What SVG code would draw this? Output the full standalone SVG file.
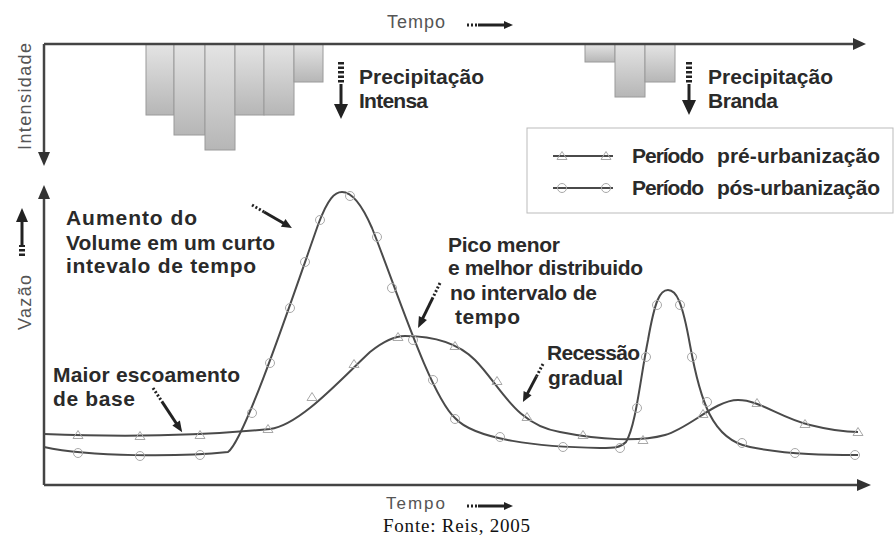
<svg xmlns="http://www.w3.org/2000/svg" xmlns:xlink="http://www.w3.org/1999/xlink" width="894" height="538" viewBox="0 0 894 538">
<style>
.axis{stroke:#444;stroke-width:2.5;fill:none}
.axhead{fill:#333}
.bar{fill:url(#barg);stroke:#9a9a9a;stroke-width:1}
.lbl{font-family:"Liberation Sans",Arial,sans-serif;font-weight:bold;font-size:21px;fill:#2a2a2a}
.ax{font-family:"Liberation Sans",Arial,sans-serif;font-size:18px;fill:#555}
.src{font-family:"Liberation Serif","Times New Roman",serif;font-size:19px;fill:#111}
.curve{fill:none;stroke:#4a4a4a;stroke-width:2}
.mk{fill:none;stroke:#a8a8a8;stroke-width:1}
.dots{stroke:#222;stroke-width:3;stroke-dasharray:2 2;fill:none}
.shaft{stroke:#222;stroke-width:3;fill:none}
.head{fill:#222}
.stripes{stroke:#222;stroke-width:6;stroke-dasharray:2.5 2;fill:none}
.legbox{fill:#fff;stroke:#bbb;stroke-width:1}
</style>
<defs>
<linearGradient id="barg" x1="0" y1="0" x2="0" y2="1">
<stop offset="0" stop-color="#e4e4e4"/>
<stop offset="1" stop-color="#b6b6b6"/>
</linearGradient>
<path id="tri" d="M0,-4.5 L5,3.5 L-5,3.5 Z"/>
<circle id="cir" cx="0" cy="0" r="4.5"/>
</defs>
<rect width="894" height="538" fill="#fff"/>

<!-- Rain bars -->
<g id="bars-intensa">
<rect class="bar" x="146" y="44" width="28" height="71"/>
<rect class="bar" x="174" y="44" width="31" height="91"/>
<rect class="bar" x="205" y="44" width="30" height="106"/>
<rect class="bar" x="235" y="44" width="29" height="71"/>
<rect class="bar" x="264" y="44" width="30" height="71"/>
<rect class="bar" x="294" y="44" width="29" height="38"/>
</g>
<g id="bars-branda">
<rect class="bar" x="585" y="44" width="30" height="18"/>
<rect class="bar" x="615" y="44" width="30" height="53"/>
<rect class="bar" x="645" y="44" width="30" height="38"/>
</g>

<!-- Axes -->
<g id="axes">
<path class="axis" d="M44,44 H856"/>
<path class="axhead" d="M853,38 L866,44 L853,50 Z"/>
<path class="axis" d="M44,44 V155"/>
<path class="axhead" d="M38,152 L44,166 L50,152 Z"/>
<path class="axis" d="M44,485 V196"/>
<path class="axhead" d="M38,199 L44,185 L50,199 Z"/>
<path class="axis" d="M44,485 H860"/>
<path class="axhead" d="M857,479 L871,485 L857,491 Z"/>
</g>

<!-- Axis labels -->
<g id="axis-labels">
<text class="ax" x="387" y="28" textLength="58">Tempo</text>
<g transform="translate(467,25)">
<path class="dots" d="M0,0 H11" stroke-width="2.5"/>
<path class="shaft" d="M11,0 H38" stroke-width="3"/>
<path class="head" d="M37,-4 L46,0 L37,4 Z"/>
</g>
<text class="ax" transform="translate(31,150) rotate(-90)" textLength="107">Intensidade</text>
<text class="ax" transform="translate(31,330) rotate(-90)" textLength="55">Vazão</text>
<g transform="translate(22,256) rotate(-90)">
<path class="stripes" d="M0,0 H11" stroke-width="5"/>
<path class="shaft" d="M11,0 H36" stroke-width="4"/>
<path class="head" d="M34,-6 L48,0 L34,6 Z"/>
</g>
<text class="ax" x="386" y="509" textLength="59" style="font-size:17px">Tempo</text>
<g transform="translate(467,506)">
<path class="dots" d="M0,0 H11" stroke-width="2.5"/>
<path class="shaft" d="M11,0 H38" stroke-width="3"/>
<path class="head" d="M37,-4 L46,0 L37,4 Z"/>
</g>
</g>

<!-- Precipitation labels -->
<g id="label-intensa">
<g transform="translate(341,62) rotate(90)">
<path class="stripes" d="M0,0 H22"/>
<path class="shaft" d="M22,0 H44" stroke-width="4.5"/>
<path class="head" d="M42,-7 L57,0 L42,7 Z"/>
</g>
<text class="lbl" x="359" y="84" textLength="125">Precipitação</text>
<text class="lbl" x="359" y="108" textLength="69">Intensa</text>
</g>
<g id="label-branda">
<g transform="translate(689,62) rotate(90)">
<path class="stripes" d="M0,0 H22"/>
<path class="shaft" d="M22,0 H40" stroke-width="4.5"/>
<path class="head" d="M38,-7 L53,0 L38,7 Z"/>
</g>
<text class="lbl" x="708" y="84" textLength="125">Precipitação</text>
<text class="lbl" x="708" y="108" textLength="70">Branda</text>
</g>

<!-- Legend -->
<g id="legend">
<rect class="legbox" x="527" y="128" width="366" height="85"/>
<path class="curve" d="M553,156 H613" stroke="#777" stroke-width="1.5"/>
<use href="#tri" xlink:href="#tri" class="mk" x="562" y="156"/>
<use href="#tri" xlink:href="#tri" class="mk" x="606" y="156"/>
<text class="lbl" x="632" y="163" textLength="72">Período</text>
<text class="lbl" x="717" y="163" textLength="163">pré-urbanização</text>
<path class="curve" d="M553,188 H613" stroke="#777" stroke-width="1.5"/>
<use href="#cir" xlink:href="#cir" class="mk" x="562" y="188"/>
<use href="#cir" xlink:href="#cir" class="mk" x="606" y="188"/>
<text class="lbl" x="632" y="195" textLength="72">Período</text>
<text class="lbl" x="717" y="195" textLength="163">pós-urbanização</text>
</g>

<!-- Hydrograph curves -->
<g id="connectors">
<path id="curve-pre" class="curve" d="M44,434 C120,437 200,436 270,429 C300,425 340,380 370,352 C385,340 395,336 405,336 C425,336 455,340 475,360 C500,385 515,425 560,432 C600,440 640,442 665,435 C690,428 715,400 738,400 C760,400 780,418 810,425 C830,430 845,432 858,432"/>
<path id="curve-pos" class="curve" d="M44,447 C90,457 180,457 228,452 C245,440 295,290 318,225 C328,198 335,192 342,192 C352,192 362,205 372,228 C395,285 430,395 455,418 C475,440 540,447 600,448 C615,448 620,448 626,442 C636,425 640,380 648,340 C655,300 660,290 668,290 C676,290 682,300 690,345 C700,400 712,440 750,447 C790,455 830,455 858,455"/>
</g>

<g id="markers-pre" class="mk">
<use href="#tri" xlink:href="#tri" x="78" y="435"/>
<use href="#tri" xlink:href="#tri" x="140" y="436"/>
<use href="#tri" xlink:href="#tri" x="200" y="435"/>
<use href="#tri" xlink:href="#tri" x="268" y="429"/>
<use href="#tri" xlink:href="#tri" x="312" y="397"/>
<use href="#tri" xlink:href="#tri" x="354" y="364"/>
<use href="#tri" xlink:href="#tri" x="398" y="337"/>
<use href="#tri" xlink:href="#tri" x="455" y="346"/>
<use href="#tri" xlink:href="#tri" x="497" y="381"/>
<use href="#tri" xlink:href="#tri" x="527" y="417"/>
<use href="#tri" xlink:href="#tri" x="583" y="435"/>
<use href="#tri" xlink:href="#tri" x="643" y="440"/>
<use href="#tri" xlink:href="#tri" x="703" y="414"/>
<use href="#tri" xlink:href="#tri" x="757" y="403"/>
<use href="#tri" xlink:href="#tri" x="805" y="424"/>
<use href="#tri" xlink:href="#tri" x="858" y="432"/>
</g>
<g id="markers-pos" class="mk">
<use href="#cir" xlink:href="#cir" x="78" y="453"/>
<use href="#cir" xlink:href="#cir" x="140" y="456"/>
<use href="#cir" xlink:href="#cir" x="200" y="455"/>
<use href="#cir" xlink:href="#cir" x="252" y="413"/>
<use href="#cir" xlink:href="#cir" x="270" y="363"/>
<use href="#cir" xlink:href="#cir" x="290" y="308"/>
<use href="#cir" xlink:href="#cir" x="305" y="262"/>
<use href="#cir" xlink:href="#cir" x="320" y="220"/>
<use href="#cir" xlink:href="#cir" x="350" y="196"/>
<use href="#cir" xlink:href="#cir" x="377" y="237"/>
<use href="#cir" xlink:href="#cir" x="392" y="288"/>
<use href="#cir" xlink:href="#cir" x="413" y="340"/>
<use href="#cir" xlink:href="#cir" x="433" y="380"/>
<use href="#cir" xlink:href="#cir" x="455" y="419"/>
<use href="#cir" xlink:href="#cir" x="500" y="437"/>
<use href="#cir" xlink:href="#cir" x="563" y="447"/>
<use href="#cir" xlink:href="#cir" x="620" y="448"/>
<use href="#cir" xlink:href="#cir" x="637" y="408"/>
<use href="#cir" xlink:href="#cir" x="646" y="357"/>
<use href="#cir" xlink:href="#cir" x="657" y="305"/>
<use href="#cir" xlink:href="#cir" x="680" y="305"/>
<use href="#cir" xlink:href="#cir" x="692" y="357"/>
<use href="#cir" xlink:href="#cir" x="707" y="402"/>
<use href="#cir" xlink:href="#cir" x="742" y="443"/>
<use href="#cir" xlink:href="#cir" x="795" y="453"/>
<use href="#cir" xlink:href="#cir" x="855" y="455"/>
</g>

<!-- Annotations -->
<g id="note-aumento">
<text class="lbl" x="66" y="225" textLength="131">Aumento do</text>
<text class="lbl" x="66" y="250" textLength="209">Volume em um curto</text>
<text class="lbl" x="66" y="273" textLength="190">intevalo de tempo</text>
<g transform="translate(252,205) rotate(29.9)">
<path class="dots" d="M0,0 H14" stroke-width="2.5"/>
<path class="shaft" d="M14,0 H38"/>
<path class="head" d="M36,-4.5 L46,0 L36,4.5 Z"/>
</g>
</g>
<g id="note-base">
<text class="lbl" x="53" y="382" textLength="187">Maior escoamento</text>
<text class="lbl" x="53" y="406" textLength="82">de base</text>
<g transform="translate(153,388) rotate(56.6)">
<path class="dots" d="M0,0 H16" stroke-width="2.5"/>
<path class="shaft" d="M16,0 H44"/>
<path class="head" d="M42,-4.5 L53,0 L42,4.5 Z"/>
</g>
</g>
<g id="note-pico">
<text class="lbl" x="448" y="252" textLength="112">Pico menor</text>
<text class="lbl" x="448" y="275" textLength="195">e melhor distribuido</text>
<text class="lbl" x="450" y="300" textLength="147">no intervalo de</text>
<text class="lbl" x="455" y="324" textLength="65">tempo</text>
<g transform="translate(440,283) rotate(116)">
<path class="dots" d="M0,0 H16" stroke-width="2.5"/>
<path class="shaft" d="M16,0 H40"/>
<path class="head" d="M39,-4.5 L50,0 L39,4.5 Z"/>
</g>
</g>
<g id="note-recessao">
<text class="lbl" x="547" y="360" textLength="93">Recessão</text>
<text class="lbl" x="548" y="385" textLength="75">gradual</text>
<g transform="translate(543,364) rotate(117.8)">
<path class="dots" d="M0,0 H14" stroke-width="2.5"/>
<path class="shaft" d="M14,0 H34"/>
<path class="head" d="M33,-4.5 L43,0 L33,4.5 Z"/>
</g>
</g>

<text class="src" x="383" y="532" textLength="147">Fonte: Reis, 2005</text>
</svg>
